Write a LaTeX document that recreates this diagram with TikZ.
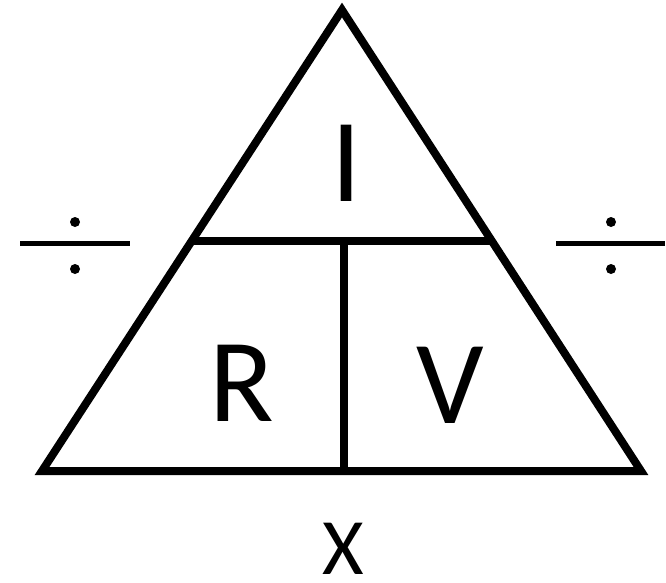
\documentclass[tikz,border=0pt]{standalone}
\usepackage{fontspec}
\setmainfont{Carlito}
\usetikzlibrary{calc}
\begin{document}
\begin{tikzpicture}[x=1pt,y=-1pt,
edge/.style={line width=8pt},
lbl/.style={anchor=base,inner sep=0pt,font=\fontsize{119}{130}\selectfont},
divbar/.style={line width=5pt},
divdot/.style={circle,fill,inner sep=0pt,minimum size=10pt}]
\useasboundingbox (0,0) rectangle (666,582);
% triangle corners
\coordinate (apex) at (342,10);
\coordinate (bl) at (42,471);
\coordinate (br) at (641,471);
\coordinate (ml) at ($(bl)!0.5!(apex)$);
\coordinate (mr) at ($(br)!0.5!(apex)$);
\coordinate (mc) at (344,240.5);
\coordinate (bc) at (bl -| mc);
\draw[edge] (apex) -- (bl) -- (br) -- cycle;
\draw[edge] (ml) -- (mr);
\draw[edge] (mc) -- (bc);
% letters
\node[lbl] (cur) at (346,201) {I};
\node[lbl] (res) at (242,421) {R};
\node[lbl] (vol) at (450,423) {V};
\node[lbl,font=\fontsize{80}{90}\selectfont] (mul) at (343,574) {X};
% divide signs
\coordinate (dlA) at (20,243);
\coordinate (dlB) at (130,243);
\coordinate (drA) at (556,243);
\coordinate (drB) at (665,243);
\draw[divbar] (dlA) -- (dlB);
\draw[divbar] (drA) -- (drB);
\node[divdot] (dlt) at (75,222) {};
\node[divdot] (dlb) at (75,269) {};
\node[divdot] (drt) at (611,222) {};
\node[divdot] (drb) at (611,269) {};
\end{tikzpicture}
\end{document}
